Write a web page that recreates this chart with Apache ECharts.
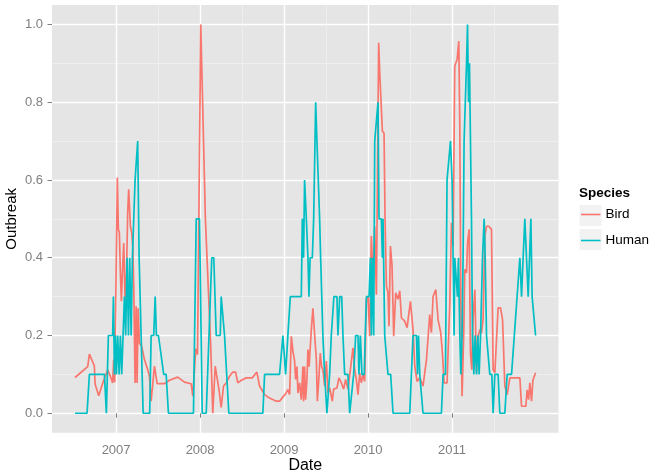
<!DOCTYPE html>
<html>
<head>
<meta charset="utf-8">
<script src="https://cdn.jsdelivr.net/npm/echarts@6/dist/echarts.min.js"></script>
<style>html,body{margin:0;padding:0;background:#fff}#chart{width:656px;height:476px}</style>
</head>
<body>
<div id="chart"></div>
<script>
// Dates are decimal years
const birdYears = [
2006.511, 2006.662, 2006.682, 2006.741, 2006.750, 2006.793, 2006.852, 2006.900, 2006.932, 2006.959,
2006.971, 2006.983, 2007.015, 2007.027, 2007.039, 2007.051, 2007.063, 2007.075, 2007.091, 2007.107,
2007.123, 2007.138, 2007.150, 2007.170, 2007.186, 2007.198, 2007.210, 2007.226, 2007.238, 2007.250,
2007.262, 2007.278, 2007.305, 2007.337, 2007.377, 2007.397, 2007.417, 2007.456, 2007.489, 2007.576,
2007.635, 2007.734, 2007.814, 2007.894, 2007.913, 2007.949, 2007.969, 2008.008, 2008.063, 2008.127,
2008.151, 2008.180, 2008.199, 2008.225, 2008.251, 2008.279, 2008.311, 2008.350, 2008.390, 2008.422,
2008.449, 2008.492, 2008.549, 2008.621, 2008.676, 2008.708, 2008.768, 2008.827, 2008.907, 2008.946,
2008.994, 2009.018, 2009.045, 2009.066, 2009.086, 2009.105, 2009.125, 2009.137, 2009.153, 2009.165,
2009.185, 2009.205, 2009.224, 2009.232, 2009.244, 2009.256, 2009.272, 2009.284, 2009.298, 2009.324,
2009.343, 2009.364, 2009.384, 2009.396, 2009.411, 2009.431, 2009.447, 2009.462, 2009.483, 2009.503,
2009.522, 2009.542, 2009.574, 2009.590, 2009.629, 2009.653, 2009.682, 2009.709, 2009.733, 2009.760,
2009.789, 2009.820, 2009.840, 2009.860, 2009.880, 2009.900, 2009.920, 2009.939, 2009.959, 2009.980,
2009.999, 2010.019, 2010.039, 2010.058, 2010.079, 2010.099, 2010.126, 2010.138, 2010.158, 2010.170,
2010.190, 2010.202, 2010.218, 2010.237, 2010.249, 2010.266, 2010.285, 2010.305, 2010.329, 2010.356,
2010.377, 2010.397, 2010.436, 2010.464, 2010.484, 2010.504, 2010.535, 2010.556, 2010.583, 2010.615,
2010.654, 2010.695, 2010.734, 2010.754, 2010.774, 2010.806, 2010.833, 2010.865, 2010.885, 2010.905,
2010.940, 2010.952, 2010.972, 2010.993, 2011.012, 2011.032, 2011.048, 2011.060, 2011.080, 2011.092,
2011.104, 2011.119, 2011.139, 2011.151, 2011.172, 2011.184, 2011.203, 2011.219, 2011.235, 2011.250,
2011.271, 2011.291, 2011.310, 2011.330, 2011.350, 2011.369, 2011.390, 2011.410, 2011.437, 2011.469,
2011.489, 2011.509, 2011.548, 2011.577, 2011.601, 2011.628, 2011.656, 2011.688, 2011.807, 2011.827,
2011.878, 2011.894, 2011.911, 2011.926, 2011.946, 2011.962, 2011.994
];
const birdValues = [
0.092, 0.12, 0.152, 0.122, 0.075, 0.045, 0.085, 0.112, 0.095, 0.078,
0.138, 0.08, 0.606, 0.473, 0.464, 0.361, 0.288, 0.361, 0.438, 0.29,
0.353, 0.516, 0.576, 0.481, 0.464, 0.43, 0.327, 0.078, 0.275, 0.078,
0.27, 0.18, 0.172, 0.138, 0.112, 0.095, 0.031, 0.121, 0.076, 0.076,
0.085, 0.093, 0.08, 0.076, 0.044, 0.166, 0.151, 1.0, 0.5, 0.17,
0.0, 0.121, 0.117, 0.061, 0.015, 0.07, 0.078, 0.095, 0.106, 0.106,
0.078, 0.085, 0.091, 0.091, 0.106, 0.07, 0.048, 0.039, 0.031, 0.031,
0.044, 0.05, 0.061, 0.048, 0.198, 0.16, 0.135, 0.087, 0.12, 0.052,
0.078, 0.035, 0.12, 0.031, 0.12, 0.035, 0.087, 0.164, 0.12, 0.215,
0.27, 0.2, 0.138, 0.031, 0.08, 0.155, 0.12, 0.112, 0.07, 0.134,
0.052, 0.065, 0.031, 0.062, 0.065, 0.091, 0.078, 0.062, 0.087, 0.062,
0.112, 0.168, 0.112, 0.087, 0.048, 0.103, 0.078, 0.1, 0.082, 0.293,
0.301, 0.198, 0.456, 0.345, 0.481, 0.305, 0.953, 0.88, 0.88, 0.726,
0.72, 0.498, 0.327, 0.31, 0.224, 0.43, 0.38, 0.198, 0.31, 0.293,
0.315, 0.245, 0.237, 0.22, 0.215, 0.288, 0.215, 0.121, 0.082, 0.091,
0.07, 0.138, 0.254, 0.207, 0.301, 0.318, 0.241, 0.207, 0.155, 0.078,
0.078, 0.155, 0.275, 0.49, 0.43, 0.893, 0.893, 0.91, 0.957, 0.739,
0.293, 0.044, 0.207, 0.37, 0.361, 0.438, 0.473, 0.155, 0.112, 0.241,
0.318, 0.104, 0.198, 0.215, 0.207, 0.241, 0.456, 0.481, 0.481, 0.473,
0.112, 0.104, 0.271, 0.271, 0.241, 0.07, 0.048, 0.091, 0.091, 0.018,
0.018, 0.06, 0.035, 0.078, 0.031, 0.085, 0.104
];
const humanYears = [
2006.511, 2006.654, 2006.682, 2006.861, 2006.884, 2006.908, 2006.959, 2006.968, 2006.980, 2006.992,
2007.004, 2007.019, 2007.036, 2007.051, 2007.067, 2007.083, 2007.099, 2007.114, 2007.131, 2007.147,
2007.162, 2007.179, 2007.194, 2007.210, 2007.226, 2007.242, 2007.257, 2007.274, 2007.290, 2007.322,
2007.400, 2007.417, 2007.448, 2007.465, 2007.480, 2007.504, 2007.567, 2007.596, 2007.623, 2007.921,
2007.954, 2007.993, 2008.025, 2008.073, 2008.139, 2008.163, 2008.192, 2008.240, 2008.251, 2008.291,
2008.342, 2008.747, 2008.768, 2008.946, 2008.986, 2009.018, 2009.045, 2009.060, 2009.074, 2009.205,
2009.217, 2009.232, 2009.244, 2009.265, 2009.284, 2009.296, 2009.310, 2009.336, 2009.352, 2009.367,
2009.376, 2009.391, 2009.408, 2009.423, 2009.435, 2009.462, 2009.483, 2009.510, 2009.542, 2009.562,
2009.581, 2009.593, 2009.629, 2009.641, 2009.662, 2009.686, 2009.701, 2009.721, 2009.760, 2009.781,
2009.801, 2009.828, 2009.852, 2009.880, 2009.891, 2009.908, 2009.927, 2009.954, 2009.966, 2009.980,
2010.011, 2010.027, 2010.039, 2010.051, 2010.067, 2010.079, 2010.099, 2010.118, 2010.130, 2010.158,
2010.170, 2010.178, 2010.198, 2010.218, 2010.237, 2010.269, 2010.297, 2010.496, 2010.535, 2010.576,
2010.588, 2010.600, 2010.615, 2010.636, 2010.654, 2010.873, 2010.893, 2010.921, 2010.940, 2010.960,
2010.981, 2011.000, 2011.012, 2011.024, 2011.032, 2011.052, 2011.064, 2011.076, 2011.092, 2011.104,
2011.119, 2011.131, 2011.143, 2011.155, 2011.172, 2011.184, 2011.196, 2011.207, 2011.219, 2011.231,
2011.243, 2011.259, 2011.274, 2011.291, 2011.307, 2011.322, 2011.339, 2011.362, 2011.382, 2011.394,
2011.410, 2011.429, 2011.449, 2011.473, 2011.489, 2011.509, 2011.548, 2011.568, 2011.628, 2011.656,
2011.708, 2011.807, 2011.827, 2011.846, 2011.866, 2011.886, 2011.906, 2011.926, 2011.938, 2011.953,
2011.994
];
const humanValues = [
0, 0, 0.1, 0.1, 0, 0.2, 0.2, 0.3, 0.1, 0.2,
0.1, 0.2, 0.1, 0.2, 0.1, 0.2, 0.3, 0.2, 0.4, 0.2,
0.4, 0.2, 0.4, 0.4, 0.6, 0.6, 0.7, 0.4, 0.4, 0,
0, 0.2, 0.2, 0.3, 0.2, 0.2, 0.1, 0.1, 0, 0,
0.5, 0.5, 0, 0, 0.4, 0.4, 0.2, 0.2, 0.3, 0.2,
0, 0, 0.1, 0.1, 0.2, 0.1, 0.2, 0.2, 0.3, 0.3,
0.5, 0.4, 0.6, 0.5, 0.4, 0.3, 0.4, 0.4, 0.5, 0.5,
0.8, 0.7, 0.7, 0.5, 0.4, 0.2, 0.1, 0, 0.1, 0.2,
0.2, 0.3, 0.3, 0.2, 0.3, 0.3, 0.2, 0.1, 0.1, 0,
0, 0.1, 0.2, 0.2, 0.1, 0.2, 0.1, 0.1, 0.2, 0.3,
0.3, 0.4, 0.2, 0.4, 0.2, 0.7, 0.7, 0.8, 0.5, 0.5,
0.4, 0.5, 0.2, 0.2, 0.1, 0.1, 0, 0, 0.2, 0.2,
0.1, 0.2, 0.1, 0.1, 0, 0, 0.1, 0.1, 0.6, 0.6,
0.7, 0.6, 0.6, 0.2, 0.4, 0.4, 0.3, 0.4, 0.2, 0.1,
0.2, 0.4, 0.7, 0.7, 0.9, 1.0, 0.8, 0.9, 0.7, 0.5,
0.2, 0.1, 0.2, 0.1, 0.2, 0.1, 0.2, 0.4, 0.5, 0.4,
0.2, 0.2, 0.1, 0.1, 0, 0.1, 0.1, 0, 0, 0.1,
0.1, 0.4, 0.3, 0.4, 0.5, 0.5, 0.3, 0.3, 0.5, 0.3,
0.2
];
const yearTicks = [2007, 2008, 2009, 2010, 2011];
const yearMinorGrid = [2007.5, 2008.5, 2009.5, 2010.5, 2011.5];
const outbreakTicks = [0, 0.2, 0.4, 0.6, 0.8, 1.0];
const outbreakMinorGrid = [0.1, 0.3, 0.5, 0.7, 0.9];
const speciesNames = ['Bird', 'Human'];
const speciesColors = ['#F8766D', '#00BFC4'];

const allYears = birdYears.concat(humanYears);
const dMin = Math.min.apply(null, allYears), dMax = Math.max.apply(null, allYears);
const xMin = dMin - 0.05 * (dMax - dMin), xMax = dMax + 0.05 * (dMax - dMin);
const yMin = -0.05, yMax = 1.05;

function zip(xs, ys) { return xs.map((x, i) => [x, ys[i]]); }

const FONT = '"Liberation Sans", Arial, Helvetica, sans-serif';
const NARROW = '"Liberation Sans Narrow", "Liberation Sans", Arial, sans-serif';
const chart = echarts.init(document.getElementById('chart'), null, {renderer: 'canvas'});
const option = {
  animation: false,
  backgroundColor: '#ffffff',
  textStyle: {fontFamily: FONT},
  title: {
    text: 'Species', left: 579, top: 186, padding: 0,
    textStyle: {fontSize: 13.5, fontWeight: 'bold', color: '#000', fontFamily: FONT}
  },
  legend: {
    orient: 'vertical', left: 581, top: 206.5, padding: 0,
    itemWidth: 19.5, itemHeight: 1.6, icon: 'rect', itemGap: 10,
    textStyle: {fontSize: 13.5, color: '#000', lineHeight: 16, fontFamily: FONT},
    data: speciesNames
  },
  graphic: [
    {type: 'rect', z: 0, shape: {x: 579, y: 204.5, width: 23, height: 22}, style: {fill: '#F2F2F2', stroke: '#ffffff', lineWidth: 1}},
    {type: 'rect', z: 0, shape: {x: 579, y: 228.5, width: 23, height: 22}, style: {fill: '#F2F2F2', stroke: '#ffffff', lineWidth: 1}}
  ],
  grid: {left: 52, right: 97.4, top: 5, bottom: 43.3, show: true, backgroundColor: '#E5E5E5', borderWidth: 0,
    containLabel: false, outerBoundsMode: 'none'},
  xAxis: [
    {
      type: 'value', min: xMin, max: xMax,
      name: 'Date', nameLocation: 'middle', nameGap: 25, nameMoveOverlap: false,
      nameTextStyle: {fontSize: 16, color: '#000', fontFamily: FONT},
      axisLine: {show: false},
      axisTick: {show: true, length: 4.5, customValues: yearTicks, lineStyle: {color: '#7F7F7F', width: 1}},
      axisLabel: {customValues: yearTicks, margin: 11, fontSize: 13, color: '#7F7F7F', fontFamily: FONT,
        formatter: v => String(Math.round(v))},
      splitLine: {show: true, lineStyle: {color: '#ffffff', width: 1.4}}
    },
    {
      type: 'value', min: xMin, max: xMax,
      axisLine: {show: false},
      axisTick: {show: false, customValues: yearMinorGrid},
      axisLabel: {show: false},
      splitLine: {show: true, lineStyle: {color: '#F2F2F2', width: 0.7}}
    }
  ],
  yAxis: [
    {
      type: 'value', min: yMin, max: yMax,
      name: 'Outbreak', nameLocation: 'middle', nameGap: 33, nameMoveOverlap: false,
      nameTextStyle: {fontSize: 15, color: '#000', fontFamily: NARROW},
      axisLine: {show: false},
      axisTick: {show: true, length: 4.5, customValues: outbreakTicks, lineStyle: {color: '#7F7F7F', width: 1}},
      axisLabel: {customValues: outbreakTicks, margin: 9, fontSize: 13, color: '#7F7F7F', fontFamily: FONT,
        formatter: v => v.toFixed(1)},
      splitLine: {show: true, lineStyle: {color: '#ffffff', width: 1.4}}
    },
    {
      type: 'value', min: yMin, max: yMax,
      axisLine: {show: false},
      axisTick: {show: false, customValues: outbreakMinorGrid},
      axisLabel: {show: false},
      splitLine: {show: true, lineStyle: {color: '#F2F2F2', width: 0.7}}
    }
  ],
  series: [
    {name: speciesNames[0], type: 'line', xAxisIndex: 0, yAxisIndex: 0, data: zip(birdYears, birdValues),
      showSymbol: false, symbol: 'none', color: speciesColors[0], lineStyle: {width: 1.7, color: speciesColors[0]}},
    {name: speciesNames[1], type: 'line', xAxisIndex: 0, yAxisIndex: 0, data: zip(humanYears, humanValues),
      showSymbol: false, symbol: 'none', color: speciesColors[1], lineStyle: {width: 1.7, color: speciesColors[1]}}
  ]
};
chart.setOption(option);
</script>
</body>
</html>
